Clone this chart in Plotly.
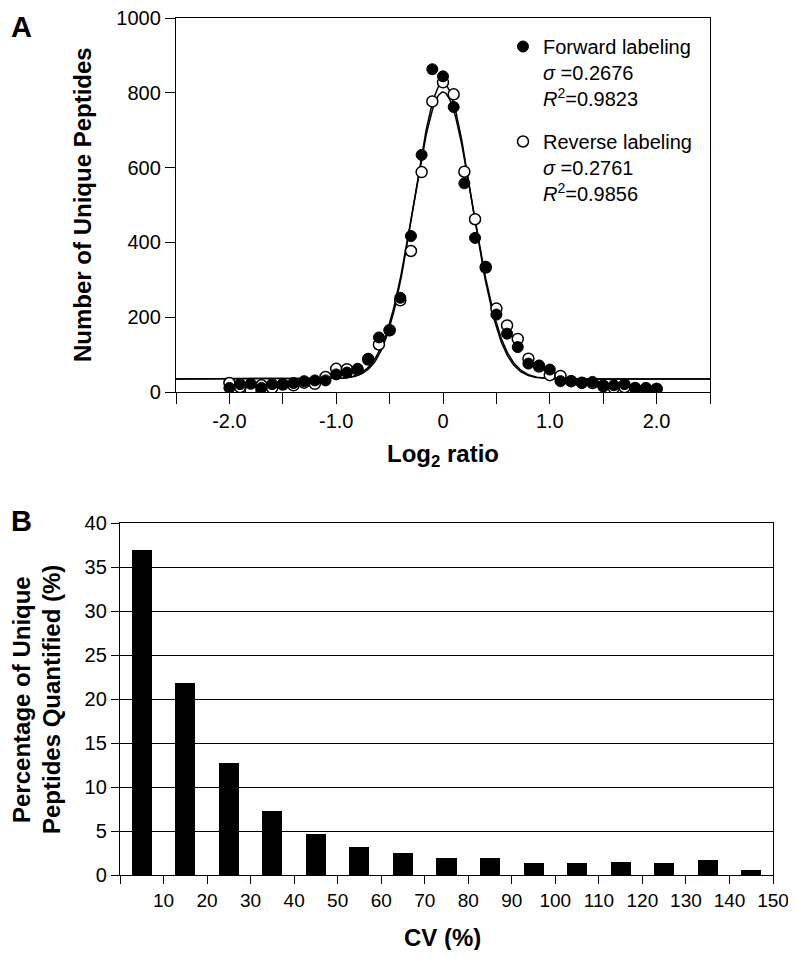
import numpy as np
import plotly.graph_objects as go

# ---------------- Data ----------------
# Panel A: distribution of log2 ratios
log2_ratio = [round(-2.0 + 0.1 * i, 1) for i in range(41)]
forward_counts = [11, 21, 22, 11, 21, 21, 24, 29, 31, 31, 47, 52, 62, 89, 146, 165, 252, 417, 634, 863,
                  844, 762, 558, 412, 335, 207, 156, 120, 76, 71, 60, 29, 29, 24, 27, 18, 18, 21, 11, 11, 9]
reverse_counts = [24, 13, 4, 18, 11, 20, 18, 25, 22, 40, 62, 61, 60, 87, 127, 165, 245, 377, 588, 777,
                  828, 796, 589, 462, 333, 223, 178, 142, 89, 68, 45, 43, 29, 25, 24, 16, 11, 13, 10, 9, 8]

# Gaussian fit parameters (sigma from the chart; amplitude / baseline)
forward_sigma, forward_amp, forward_base = 0.2676, 791, 35
reverse_sigma, reverse_amp, reverse_base = 0.2761, 767, 35

a_xtick_vals = [-2.0, -1.0, 0.0, 1.0, 2.0]
a_xtick_text = ["-2.0", "-1.0", "0", "1.0", "2.0"]
a_ytick_vals = [0, 200, 400, 600, 800, 1000]

# Panel B: CV distribution
cv_bin_centers = [5, 15, 25, 35, 45, 55, 65, 75, 85, 95, 105, 115, 125, 135, 145]
cv_percent = [36.9, 21.8, 12.7, 7.3, 4.7, 3.2, 2.5, 1.9, 1.9, 1.35, 1.35, 1.5, 1.35, 1.7, 0.6]
b_xtick_vals = [10, 20, 30, 40, 50, 60, 70, 80, 90, 100, 110, 120, 130, 140, 150]
b_ytick_vals = [0, 5, 10, 15, 20, 25, 30, 35, 40]

# ---------------- Figure ----------------
# page body has an 8px margin: keep the figure inside the 796x958 window
OFF = 8
W, H = 796 - 2 * OFF, 958 - 2 * OFF
FONT = "Arial, 'Liberation Sans', Helvetica, sans-serif"


def px(x):
    return (x - OFF) / W


def py(y):
    return 1 - (y - OFF) / H


fig = go.Figure()

xfit = np.linspace(-2.5, 2.5, 501)
fit_fwd = forward_base + forward_amp * np.exp(-xfit ** 2 / (2 * forward_sigma ** 2))
fit_rev = reverse_base + reverse_amp * np.exp(-xfit ** 2 / (2 * reverse_sigma ** 2))

fig.add_trace(go.Scatter(x=xfit, y=fit_rev, mode="lines", line=dict(color="black", width=1.5),
                         showlegend=False, hoverinfo="skip", xaxis="x", yaxis="y"))
fig.add_trace(go.Scatter(x=xfit, y=fit_fwd, mode="lines", line=dict(color="black", width=1.5),
                         showlegend=False, hoverinfo="skip", xaxis="x", yaxis="y"))

fig.add_trace(go.Scatter(
    x=log2_ratio, y=reverse_counts, mode="markers",
    name="Reverse labeling<br><i>σ</i> =0.2761<br><i>R</i><sup>2</sup>=0.9856",
    marker=dict(symbol="circle", size=11, color="white", line=dict(color="black", width=1.5)),
    legendrank=2, legendgroup="rev", xaxis="x", yaxis="y"))
fig.add_trace(go.Scatter(
    x=log2_ratio, y=forward_counts, mode="markers",
    name="Forward labeling<br><i>σ</i> =0.2676<br><i>R</i><sup>2</sup>=0.9823",
    marker=dict(symbol="circle", size=11, color="black", line=dict(color="black", width=1)),
    legendrank=1, legendgroup="fwd", xaxis="x", yaxis="y"))

fig.add_trace(go.Bar(x=cv_bin_centers, y=cv_percent, width=4.6, marker=dict(color="black", line=dict(width=0)),
                     showlegend=False, xaxis="x2", yaxis="y2"))

axis_common = dict(showline=True, linecolor="black", linewidth=1.3, mirror=True, ticks="outside",
                   tickcolor="black", tickwidth=1.3, showgrid=False, zeroline=False,
                   ticklabeloverflow="allow", automargin=False,
                   tickfont=dict(family=FONT, size=20, color="black"))

fig.update_layout(
    width=W, height=H,
    margin=dict(l=0, r=0, t=0, b=0, pad=0, autoexpand=False),
    paper_bgcolor="white", plot_bgcolor="white",
    font=dict(family=FONT, color="black"),
    bargap=0,
    xaxis=dict(domain=[px(176), px(710)], range=[-2.5, 2.5], tickmode="array",
               tickvals=a_xtick_vals, ticktext=a_xtick_text, ticklen=11, anchor="y",
               minor=dict(ticks="outside", tick0=0, dtick=0.5, ticklen=11, tickcolor="black", tickwidth=1.3),
               **axis_common),
    yaxis=dict(domain=[py(392), py(18)], range=[0, 1000], tickmode="array",
               tickvals=a_ytick_vals, ticklen=10, anchor="x", **axis_common),
    xaxis2=dict(domain=[px(120), px(773)], range=[0, 150], tickmode="array",
                tickvals=b_xtick_vals, ticklen=8, anchor="y2",
                minor=dict(ticks="outside", tick0=0, dtick=10, ticklen=8, tickcolor="black", tickwidth=1.3),
                **{**axis_common, "tickfont": dict(family=FONT, size=19, color="black")}),
    yaxis2=dict(domain=[py(875), py(523)], range=[0, 40], tickmode="array",
                tickvals=b_ytick_vals, ticklen=8, anchor="x2",
                **{**axis_common, "showgrid": True, "gridcolor": "black", "gridwidth": 1.3,
                   "tickfont": dict(family=FONT, size=20, color="black")}),
    legend=dict(x=px(503), y=py(27), xanchor="left", yanchor="top", valign="top",
                font=dict(family=FONT, size=20, color="black"), bgcolor="rgba(0,0,0,0)",
                tracegroupgap=14, traceorder="grouped"),
)

annotations = [
    dict(text="<b>A</b>", x=px(22), y=py(8.5), yanchor="top", font=dict(size=29)),
    dict(text="<b>B</b>", x=px(22), y=py(521), yanchor="middle", font=dict(size=29)),
    dict(text="<b>Number of Unique Peptides</b>", x=px(82), y=py(205), yanchor="middle", textangle=-90,
         font=dict(size=24)),
    dict(text="<b>Log<sub>2</sub> ratio</b>", x=px(443), y=py(455), yanchor="middle", font=dict(size=24)),
    dict(text="<b>Percentage of Unique</b>", x=px(21), y=py(700), yanchor="middle", textangle=-90,
         font=dict(size=24)),
    dict(text="<b>Peptides Quantified (%)</b>", x=px(51), y=py(700), yanchor="middle", textangle=-90,
         font=dict(size=24)),
    dict(text="<b>CV (%)</b>", x=px(442), y=py(937), yanchor="middle", font=dict(size=24)),
]
for a in annotations:
    a.update(xref="paper", yref="paper", showarrow=False, xanchor="center")
    a["font"] = dict(family=FONT, color="black", **a["font"])
    fig.add_annotation(**a)

fig.write_html("out.html")
